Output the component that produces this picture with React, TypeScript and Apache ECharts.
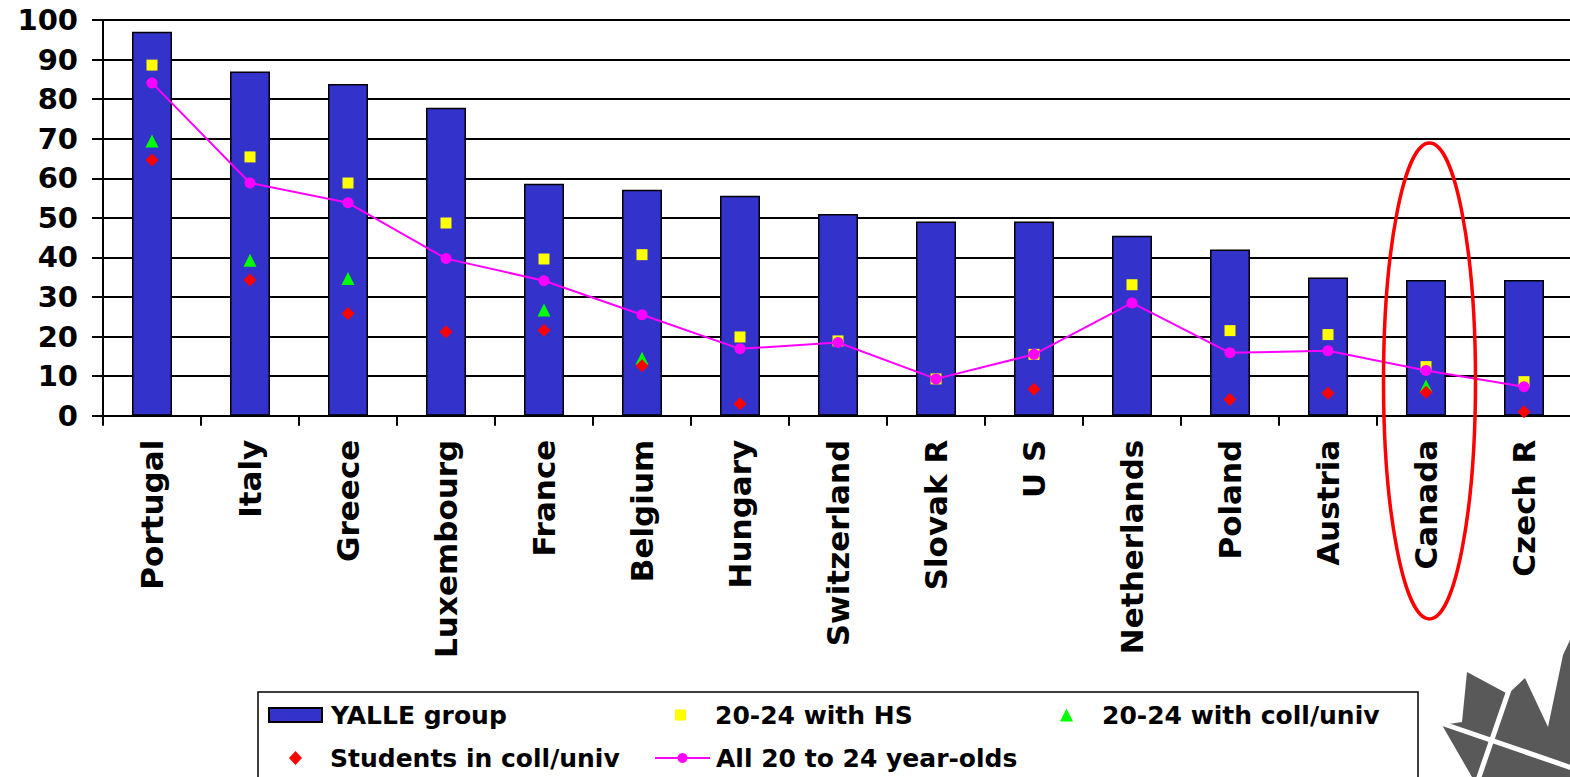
import React, { useEffect, useRef } from "react";
import * as echarts from "echarts";

// Countries, ordered by the YALLE group share
const categories = [
  "Portugal",
  "Italy",
  "Greece",
  "Luxembourg",
  "France",
  "Belgium",
  "Hungary",
  "Switzerland",
  "Slovak R",
  "U S",
  "Netherlands",
  "Poland",
  "Austria",
  "Canada",
  "Czech R",
];

// Percentages per country
const yalleGroup = [97, 87, 83.8, 77.8, 58.6, 57.1, 55.6, 51, 49.1, 49.1, 45.5, 42, 34.9, 34.3, 34.3];
const withHS = [88.6, 65.4, 58.8, 48.7, 39.6, 40.7, 19.9, 18.9, 9.3, 15.5, 33.1, 21.5, 20.5, 12.4, 8.6];
const withCollUniv = [69.4, 39.3, 34.7, null, 26.7, 14.5, null, null, null, null, null, null, null, 7.5, null];
const studentsCollUniv = [64.6, 34.3, 25.8, 21.2, 21.6, 12.6, 3.0, null, null, 6.7, null, 4.1, 5.7, 5.9, 1.0];
const all20to24 = [84.1, 58.8, 53.8, 39.7, 34.1, 25.5, 16.9, 18.5, 9.3, 15.5, 28.5, 15.9, 16.4, 11.4, 7.3];

// Value axis range
const yMin = 0;
const yMax = 100;
const yStep = 10;

const FONT = "'DejaVu Sans', Verdana, sans-serif";

export default function App() {
  const ref = useRef<HTMLDivElement>(null);

  useEffect(() => {
    if (!ref.current) return;
    const chart = echarts.init(ref.current, undefined, { renderer: "svg" });

    const legendText = {
      fontFamily: FONT,
      fontWeight: "bold" as const,
      fontSize: 25,
      color: "#000",
      lineHeight: 28,
    };
    const makeLegend = (
      name: string,
      left: number,
      top: number,
      w: number,
      h: number,
      padLeft: number,
      extra: Record<string, unknown> = {}
    ) => ({
      show: true,
      data: [name],
      left,
      top,
      orient: "horizontal",
      padding: 0,
      itemWidth: w,
      itemHeight: h,
      selectedMode: false,
      textStyle: { ...legendText, padding: [0, 0, 0, padLeft] },
      ...extra,
    });

    const option: echarts.EChartsOption = {
      animation: false,
      backgroundColor: "#fff",
      grid: {
        left: 103,
        top: 20,
        width: 1470,
        height: 395.7,
        outerBoundsMode: "none",
      } as any,
      xAxis: {
        type: "category",
        data: categories,
        axisLine: { show: true, lineStyle: { color: "#000", width: 2 } },
        axisTick: { show: true, length: 10, lineStyle: { color: "#000", width: 2 } },
        axisLabel: {
          rotate: 90,
          margin: 24,
          interval: 0,
          fontFamily: FONT,
          fontWeight: "bold",
          fontSize: 31,
          color: "#000",
        },
        splitLine: { show: false },
      },
      yAxis: {
        type: "value",
        min: yMin,
        max: yMax,
        interval: yStep,
        axisLine: { show: true, lineStyle: { color: "#000", width: 2 } },
        axisTick: { show: true, length: 11, lineStyle: { color: "#000", width: 2 } },
        axisLabel: {
          margin: 25,
          fontFamily: FONT,
          fontWeight: "bold",
          fontSize: 29,
          color: "#000",
          padding: [5, 0, 0, 0],
        },
        splitLine: { show: true, lineStyle: { color: "#000", width: 2 } },
      },
      legend: [
        makeLegend("YALLE group", 268, 701, 53, 14, 4, { icon: "rect" }),
        makeLegend("20-24 with HS", 675, 701, 11, 11, 24),
        makeLegend("20-24 with coll/univ", 1060, 701, 13, 13, 24),
        makeLegend("Students in coll/univ", 289, 744, 13, 14, 23),
        makeLegend("All 20 to 24 year-olds", 654, 744, 55, 12.5, 1),
      ] as any,
      series: [
        {
          name: "YALLE group",
          type: "bar",
          data: yalleGroup,
          barWidth: 40,
          itemStyle: { color: "#3333CC", borderColor: "#000", borderWidth: 1.5 },
        },
        {
          name: "20-24 with HS",
          type: "scatter",
          data: withHS,
          symbol: "rect",
          symbolSize: 11,
          itemStyle: { color: "#FFFF00", opacity: 1 },
        },
        {
          name: "20-24 with coll/univ",
          type: "scatter",
          data: withCollUniv,
          symbol: "triangle",
          symbolSize: 13,
          itemStyle: { color: "#00FF00", opacity: 1 },
        },
        {
          name: "Students in coll/univ",
          type: "scatter",
          data: studentsCollUniv,
          symbol: "diamond",
          symbolSize: 13,
          itemStyle: { color: "#FF0000", opacity: 1 },
        },
        {
          name: "All 20 to 24 year-olds",
          type: "line",
          data: all20to24,
          symbol: "circle",
          symbolSize: 11,
          showAllSymbol: true,
          lineStyle: { color: "#FF00FF", width: 2 },
          itemStyle: { color: "#FF00FF", borderWidth: 0 },
        },
      ],
      graphic: [
        // legend frame
        {
          type: "rect",
          z: -1,
          shape: { x: 258, y: 692, width: 1160, height: 100 },
          style: { fill: "#fff", stroke: "#000", lineWidth: 1.5 },
        },
        // highlight around Canada
        {
          type: "ellipse",
          z: 100,
          shape: { cx: 1429.5, cy: 381, rx: 46, ry: 238 },
          style: { fill: "none", stroke: "#FF0000", lineWidth: 3.5 },
        },
        // corner logo
        {
          type: "group",
          z: 100,
          children: [
            {
              type: "polygon",
              shape: {
                points: [
                  [1467, 672],
                  [1508, 694],
                  [1525, 678],
                  [1548, 727],
                  [1563, 655],
                  [1570, 640],
                  [1570, 777],
                  [1472, 777],
                  [1442, 725],
                  [1462, 722],
                ],
              },
              style: { fill: "#595959" },
            },
            {
              type: "line",
              shape: { x1: 1438, y1: 722, x2: 1575, y2: 769 },
              style: { stroke: "#fff", lineWidth: 5 },
            },
            {
              type: "line",
              shape: { x1: 1509, y1: 690, x2: 1478, y2: 780 },
              style: { stroke: "#fff", lineWidth: 5 },
            },
          ],
        },
      ],
    };

    chart.setOption(option);
    return () => chart.dispose();
  }, []);

  return (
    <div
      ref={ref}
      style={{ position: "fixed", left: 0, top: 0, width: 1570, height: 777, background: "#fff" }}
    />
  );
}
